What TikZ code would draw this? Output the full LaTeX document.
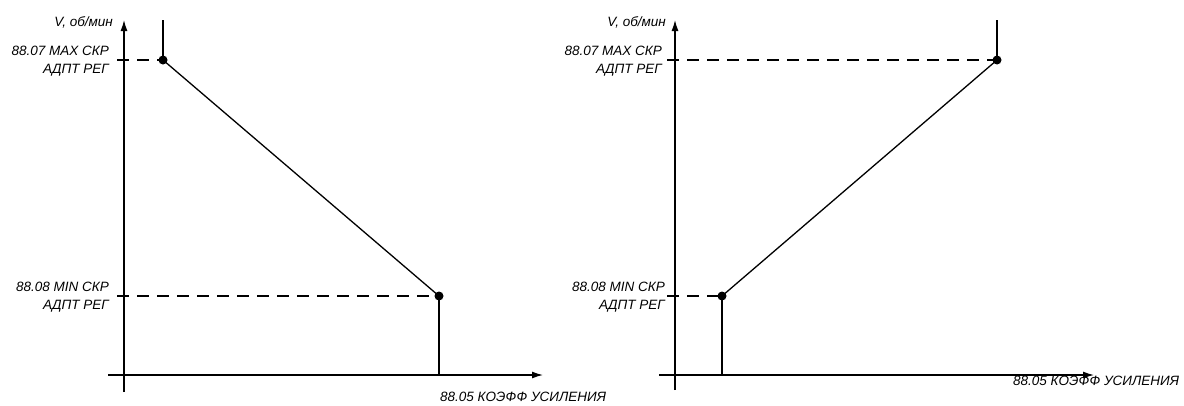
\documentclass[tikz,border=0pt]{standalone}
\usepackage{fontspec}
\setmainfont{Liberation Sans}
\usetikzlibrary{arrows.meta}
\begin{document}
\begin{tikzpicture}[x=1pt,y=-1pt,
  axis/.style={line width=1.3pt,-{Latex[length=11pt,width=7pt]}},
  ln/.style={line width=1.3pt},
  dsh/.style={line width=1.3pt,dash pattern=on 12pt off 8pt},
  dot/.style={circle,fill=black,inner sep=0pt,minimum size=9pt},
  lbl/.style={font=\itshape\fontsize{13.5}{18}\selectfont,inner sep=0pt,align=right,anchor=east},
  xlbl/.style={font=\itshape\fontsize{13.5}{18}\selectfont,inner sep=0pt,anchor=west}]
\useasboundingbox (0,0) rectangle (1184,405);
% left chart
\coordinate (LyB) at (124,392);
\coordinate (LyT) at (124,20);
\coordinate (LxB) at (108,375);
\coordinate (LxT) at (543,375);
\draw[axis] (LyB) -- (LyT);
\draw[axis] (LxB) -- (LxT);
\node[dot] (Lmax) at (163,60) {};
\node[dot] (Lmin) at (439,296) {};
\coordinate (LmaxTop) at (163,20);
\coordinate (LminBot) at (439,375);
\coordinate (LmaxD) at (117,60);
\coordinate (LminD) at (117,296);
\draw[ln] (LmaxTop) -- (Lmax.center);
\draw[ln] (Lmax.center) -- (Lmin.center);
\draw[ln] (Lmin.center) -- (LminBot);
\draw[dsh] (LmaxD) -- (Lmax.center);
\draw[dsh] (LminD) -- (Lmin.center);
\node[lbl] (LV) at (113,22) {V, об/мин};
\node[lbl] (LmaxL) at (109,61) {88.07 MAX СКР\\АДПТ РЕГ};
\node[lbl] (LminL) at (109,297) {88.08 MIN СКР\\АДПТ РЕГ};
\node[xlbl] (LxL) at (440,397) {88.05 КОЭФФ УСИЛЕНИЯ};
% right chart
\coordinate (RyB) at (675,390);
\coordinate (RyT) at (675,20);
\coordinate (RxB) at (659,375);
\coordinate (RxT) at (1094,375);
\draw[axis] (RyB) -- (RyT);
\draw[axis] (RxB) -- (RxT);
\node[dot] (Rmin) at (722,296) {};
\node[dot] (Rmax) at (997,60) {};
\coordinate (RmaxTop) at (997,20);
\coordinate (RminBot) at (722,375);
\coordinate (RmaxD) at (667,60);
\coordinate (RminD) at (667,296);
\draw[ln] (RmaxTop) -- (Rmax.center);
\draw[ln] (Rmax.center) -- (Rmin.center);
\draw[ln] (Rmin.center) -- (RminBot);
\draw[dsh] (RmaxD) -- (Rmax.center);
\draw[dsh] (RminD) -- (Rmin.center);
\node[lbl] (RV) at (666,22) {V, об/мин};
\node[lbl] (RmaxL) at (662,61) {88.07 MAX СКР\\АДПТ РЕГ};
\node[lbl] (RminL) at (665,297) {88.08 MIN СКР\\АДПТ РЕГ};
\node[xlbl] (RxL) at (1013,381) {88.05 КОЭФФ УСИЛЕНИЯ};
\end{tikzpicture}
\end{document}
